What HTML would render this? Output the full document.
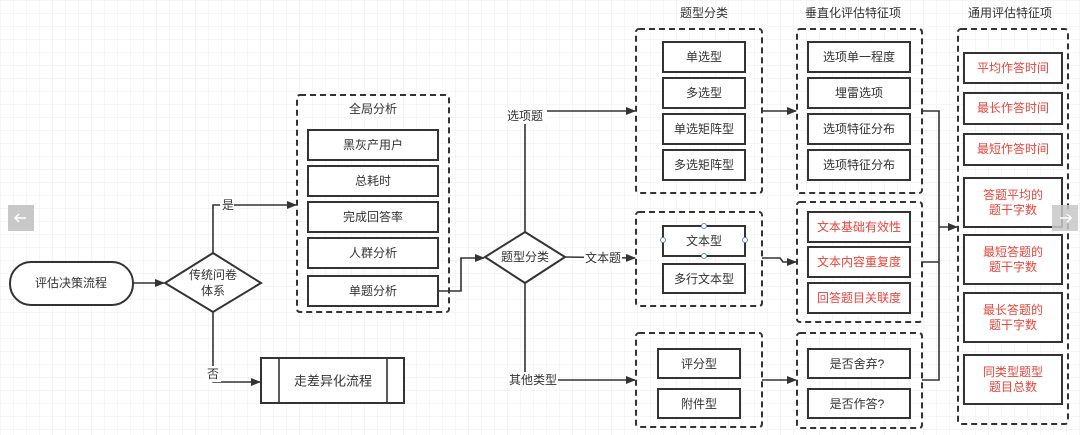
<!DOCTYPE html>
<html><head><meta charset="utf-8"><style>
html,body{margin:0;padding:0;background:#fff}
svg{display:block}
text{font-family:"Liberation Sans","Noto Sans CJK SC",sans-serif;font-size:12px;fill:#333;text-anchor:middle;dominant-baseline:central}
.r{fill:#e5463c}
.b{fill:#fff;stroke:#333;stroke-width:2}
.d{fill:none;stroke:#333;stroke-width:2;stroke-dasharray:6 4}
.l{fill:none;stroke:#333;stroke-width:1.6}
</style></head><body>
<svg width="1080" height="435" viewBox="0 0 1080 435" xmlns="http://www.w3.org/2000/svg">
<defs>
<pattern id="g" x="0.5" y="0.5" width="13" height="13" patternUnits="userSpaceOnUse"><path d="M13 0V13M0 13H13" stroke="#ececec" stroke-width="1" fill="none"/></pattern>
<marker id="a" markerWidth="10" markerHeight="8" refX="9" refY="4" orient="auto" markerUnits="userSpaceOnUse"><path d="M0 0L10 4L0 8z" fill="#333"/></marker>
</defs>
<rect width="1080" height="435" fill="url(#g)"/>

<!-- start -->
<rect class="b" x="10" y="262" width="123" height="43" rx="21"/>
<text x="71" y="283">评估决策流程</text>
<line class="l" x1="133" y1="283" x2="164" y2="283" marker-end="url(#a)"/>
<polygon class="b" points="213,253 261,283 213,312 165,283"/>
<text x="213" y="275">传统问卷</text><text x="213" y="291">体系</text>

<!-- yes -->
<polyline class="l" points="213,253 213,205 296,205" marker-end="url(#a)"/>
<rect x="220" y="197" width="14" height="16" fill="#fff"/><text x="228" y="205">是</text>
<!-- no -->
<polyline class="l" points="213,312 213,382 260,382" marker-end="url(#a)"/>
<rect x="205" y="366" width="16" height="16" fill="#fff"/><text x="213" y="374">否</text>
<rect class="b" x="261" y="358" width="143" height="45"/>
<line class="l" x1="279" y1="358" x2="279" y2="403"/><line class="l" x1="387" y1="358" x2="387" y2="403"/>
<text x="333" y="381" style="font-size:13px">走差异化流程</text>

<!-- global -->
<rect class="d" x="297" y="95" width="152" height="217" rx="3"/>
<text x="373" y="109">全局分析</text>
<rect class="b" x="308" y="130" width="130" height="30"/><text x="373" y="145">黑灰产用户</text>
<rect class="b" x="308" y="166" width="130" height="30"/><text x="373" y="181">总耗时</text>
<rect class="b" x="308" y="202" width="130" height="30"/><text x="373" y="217">完成回答率</text>
<rect class="b" x="308" y="238" width="130" height="30"/><text x="373" y="253">人群分析</text>
<rect class="b" x="308" y="276" width="130" height="30"/><text x="373" y="291">单题分析</text>
<polyline class="l" points="438,291 461,291 461,258 484,258" marker-end="url(#a)"/>

<!-- diamond 2 -->
<polygon class="b" points="525,232 565,257 525,283 485,257"/>
<text x="525" y="257">题型分类</text>
<polyline class="l" points="525,232 525,111 635,111" marker-end="url(#a)"/>
<rect x="503" y="108" width="44" height="16" fill="#fff"/><text x="525" y="116">选项题</text>
<polyline class="l" points="565,257 635,258" marker-end="url(#a)"/>
<rect x="584" y="250" width="38" height="16" fill="#fff"/><text x="603" y="258">文本题</text>
<polyline class="l" points="525,283 525,380 635,380" marker-end="url(#a)"/>
<rect x="508" y="372" width="50" height="16" fill="#fff"/><text x="533" y="380">其他类型</text>

<!-- column 1 -->
<text x="704" y="13">题型分类</text>
<rect class="d" x="636" y="29" width="126" height="164" rx="3"/>
<rect class="b" x="663" y="42" width="82" height="30"/><text x="704" y="57">单选型</text>
<rect class="b" x="663" y="78" width="82" height="30"/><text x="704" y="93">多选型</text>
<rect class="b" x="663" y="114" width="82" height="30"/><text x="704" y="129">单选矩阵型</text>
<rect class="b" x="663" y="150" width="82" height="30"/><text x="704" y="165">多选矩阵型</text>
<rect class="d" x="636" y="212" width="126" height="94" rx="3"/>
<rect class="b" x="663" y="226" width="82" height="30"/><text x="704" y="241">文本型</text>
<rect class="b" x="663" y="264" width="82" height="29"/><text x="704" y="279">多行文本型</text>
<g fill="#fff" stroke="#4a90e2" stroke-width="1"><circle cx="704" cy="226" r="2.5"/><circle cx="704" cy="256" r="2.5"/><circle cx="663" cy="240" r="2.5"/><circle cx="745" cy="240" r="2.5"/></g>
<rect class="d" x="636" y="333" width="126" height="94" rx="3"/>
<rect class="b" x="658" y="349" width="82" height="29"/><text x="699" y="364">评分型</text>
<rect class="b" x="658" y="389" width="82" height="29"/><text x="699" y="404">附件型</text>

<line class="l" x1="762" y1="111" x2="796" y2="111" marker-end="url(#a)"/>
<polyline class="l" points="762,258 780,258 783,262 796,262" marker-end="url(#a)"/>
<line class="l" x1="762" y1="380" x2="796" y2="380" marker-end="url(#a)"/>

<!-- column 2 -->
<text x="853" y="13">垂直化评估特征项</text>
<rect class="d" x="797" y="29" width="125" height="164" rx="3"/>
<rect class="b" x="808" y="42" width="102" height="30"/><text x="859" y="57">选项单一程度</text>
<rect class="b" x="808" y="78" width="102" height="30"/><text x="859" y="93">埋雷选项</text>
<rect class="b" x="808" y="114" width="102" height="30"/><text x="859" y="129">选项特征分布</text>
<rect class="b" x="808" y="150" width="102" height="30"/><text x="859" y="165">选项特征分布</text>
<rect class="d" x="797" y="202" width="125" height="120" rx="3"/>
<rect class="b" x="808" y="212" width="102" height="30"/><text class="r" x="859" y="227">文本基础有效性</text>
<rect class="b" x="808" y="247" width="102" height="30"/><text class="r" x="859" y="262">文本内容重复度</text>
<rect class="b" x="808" y="283" width="102" height="30"/><text class="r" x="859" y="298">回答题目关联度</text>
<rect class="d" x="797" y="333" width="125" height="95" rx="3"/>
<rect class="b" x="808" y="349" width="102" height="29"/><text x="857" y="364">是否舍弃?</text>
<rect class="b" x="808" y="389" width="102" height="29"/><text x="857" y="404">是否作答?</text>

<polyline class="l" points="922,111 939,111 939,380 922,380"/>
<line class="l" x1="922" y1="262" x2="939" y2="262"/>
<line class="l" x1="939" y1="227" x2="957" y2="227" marker-end="url(#a)"/>

<!-- column 3 -->
<text x="1010" y="13">通用评估特征项</text>
<rect class="d" x="958" y="29" width="110" height="395" rx="3"/>
<rect class="b" x="964" y="53" width="98" height="30"/><text class="r" x="1013" y="68">平均作答时间</text>
<rect class="b" x="964" y="93" width="98" height="31"/><text class="r" x="1013" y="108">最长作答时间</text>
<rect class="b" x="964" y="134" width="98" height="31"/><text class="r" x="1013" y="149">最短作答时间</text>
<rect class="b" x="964" y="178" width="98" height="49"/><text class="r" x="1013" y="195">答题平均的</text><text class="r" x="1013" y="210">题干字数</text>
<rect class="b" x="964" y="235" width="98" height="49"/><text class="r" x="1013" y="252">最短答题的</text><text class="r" x="1013" y="267">题干字数</text>
<rect class="b" x="964" y="293" width="98" height="49"/><text class="r" x="1013" y="310">最长答题的</text><text class="r" x="1013" y="325">题干字数</text>
<rect class="b" x="964" y="355" width="98" height="49"/><text class="r" x="1013" y="372">同类型题型</text><text class="r" x="1013" y="387">题目总数</text>

<!-- nav widgets -->
<rect x="8" y="205" width="26" height="26" fill="#c8c8c8"/>
<path d="M26 218H15M19 214L15 218L19 222" stroke="#fff" stroke-width="1.5" fill="none"/>
<rect x="1052" y="205" width="26" height="26" fill="#c8c8c8" opacity="0.85"/>
<path d="M1060 218H1071M1067 214L1071 218L1067 222" stroke="#fff" stroke-width="1.5" fill="none"/>
</svg>
</body></html>
